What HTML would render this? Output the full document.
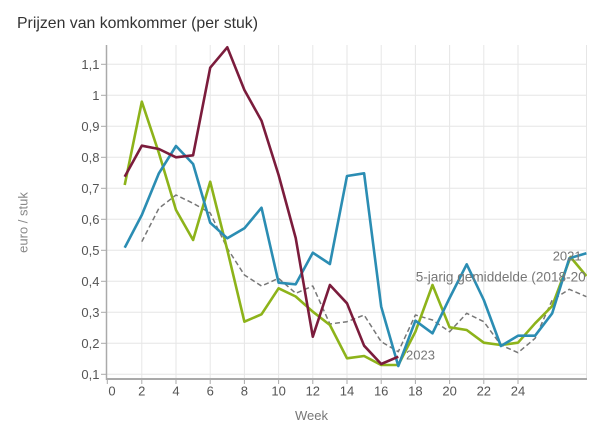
<!DOCTYPE html>
<html>
<head>
<meta charset="utf-8">
<style>
html,body{margin:0;padding:0;background:#fff;}
svg{display:block;}
text{font-family:"Liberation Sans",Arial,sans-serif;}
</style>
</head>
<body>
<svg width="600" height="441" viewBox="0 0 600 441" xmlns="http://www.w3.org/2000/svg">
<rect width="600" height="441" fill="#fff"/>
<text x="17" y="28" font-size="16" fill="#333" textLength="241" lengthAdjust="spacingAndGlyphs">Prijzen van komkommer (per stuk)</text>

<defs>
<clipPath id="plot"><rect x="107" y="40" width="480" height="339"/></clipPath>
</defs>

<!-- grid -->
<g stroke="#e6e6e6" stroke-width="1">
<line x1="107" x2="587" y1="374.3" y2="374.3"/>
<line x1="107" x2="587" y1="343.3" y2="343.3"/>
<line x1="107" x2="587" y1="312.3" y2="312.3"/>
<line x1="107" x2="587" y1="281.3" y2="281.3"/>
<line x1="107" x2="587" y1="250.3" y2="250.3"/>
<line x1="107" x2="587" y1="219.3" y2="219.3"/>
<line x1="107" x2="587" y1="188.3" y2="188.3"/>
<line x1="107" x2="587" y1="157.3" y2="157.3"/>
<line x1="107" x2="587" y1="126.3" y2="126.3"/>
<line x1="107" x2="587" y1="95.3" y2="95.3"/>
<line x1="107" x2="587" y1="64.3" y2="64.3"/>
<line x1="141.8" x2="141.8" y1="45" y2="379"/>
<line x1="176" x2="176" y1="45" y2="379"/>
<line x1="210.2" x2="210.2" y1="45" y2="379"/>
<line x1="244.4" x2="244.4" y1="45" y2="379"/>
<line x1="278.6" x2="278.6" y1="45" y2="379"/>
<line x1="312.8" x2="312.8" y1="45" y2="379"/>
<line x1="347" x2="347" y1="45" y2="379"/>
<line x1="381.2" x2="381.2" y1="45" y2="379"/>
<line x1="415.4" x2="415.4" y1="45" y2="379"/>
<line x1="449.6" x2="449.6" y1="45" y2="379"/>
<line x1="483.8" x2="483.8" y1="45" y2="379"/>
<line x1="518" x2="518" y1="45" y2="379"/>
<line x1="586.5" x2="586.5" y1="45" y2="379"/>
</g>

<!-- axes -->
<g stroke="#aaa">
<line x1="106.5" x2="106.5" y1="45" y2="380" stroke-width="1.5"/>
<line x1="106" x2="587" y1="379" y2="379" stroke-width="2"/>
</g>
<g stroke="#aaa" stroke-width="1">
<line x1="101" x2="106" y1="374.3" y2="374.3"/>
<line x1="101" x2="106" y1="343.3" y2="343.3"/>
<line x1="101" x2="106" y1="312.3" y2="312.3"/>
<line x1="101" x2="106" y1="281.3" y2="281.3"/>
<line x1="101" x2="106" y1="250.3" y2="250.3"/>
<line x1="101" x2="106" y1="219.3" y2="219.3"/>
<line x1="101" x2="106" y1="188.3" y2="188.3"/>
<line x1="101" x2="106" y1="157.3" y2="157.3"/>
<line x1="101" x2="106" y1="126.3" y2="126.3"/>
<line x1="101" x2="106" y1="95.3" y2="95.3"/>
<line x1="101" x2="106" y1="64.3" y2="64.3"/>
<line x1="107.3" x2="107.3" y1="379" y2="384"/>
<line x1="141.8" x2="141.8" y1="379" y2="384"/>
<line x1="176" x2="176" y1="379" y2="384"/>
<line x1="210.2" x2="210.2" y1="379" y2="384"/>
<line x1="244.4" x2="244.4" y1="379" y2="384"/>
<line x1="278.6" x2="278.6" y1="379" y2="384"/>
<line x1="312.8" x2="312.8" y1="379" y2="384"/>
<line x1="347" x2="347" y1="379" y2="384"/>
<line x1="381.2" x2="381.2" y1="379" y2="384"/>
<line x1="415.4" x2="415.4" y1="379" y2="384"/>
<line x1="449.6" x2="449.6" y1="379" y2="384"/>
<line x1="483.8" x2="483.8" y1="379" y2="384"/>
<line x1="518" x2="518" y1="379" y2="384"/>
</g>

<!-- y labels -->
<g font-size="13" fill="#555" text-anchor="end">
<text x="99.5" y="379">0,1</text>
<text x="99.5" y="348">0,2</text>
<text x="99.5" y="317">0,3</text>
<text x="99.5" y="286">0,4</text>
<text x="99.5" y="255">0,5</text>
<text x="99.5" y="224">0,6</text>
<text x="99.5" y="193">0,7</text>
<text x="99.5" y="162">0,8</text>
<text x="99.5" y="131">0,9</text>
<text x="99.5" y="100">1</text>
<text x="99.5" y="69">1,1</text>
</g>
<!-- x labels -->
<g font-size="13" fill="#555" text-anchor="middle">
<text x="112" y="395.7">0</text>
<text x="141.8" y="395.7">2</text>
<text x="176" y="395.7">4</text>
<text x="210.2" y="395.7">6</text>
<text x="244.4" y="395.7">8</text>
<text x="278.6" y="395.7">10</text>
<text x="312.8" y="395.7">12</text>
<text x="347" y="395.7">14</text>
<text x="381.2" y="395.7">16</text>
<text x="415.4" y="395.7">18</text>
<text x="449.6" y="395.7">20</text>
<text x="483.8" y="395.7">22</text>
<text x="518" y="395.7">24</text>
</g>
<text x="311.5" y="420" font-size="13" fill="#777" text-anchor="middle">Week</text>
<text transform="translate(27.5,222.5) rotate(-90)" font-size="13" fill="#888" text-anchor="middle">euro / stuk</text>

<g clip-path="url(#plot)" fill="none" stroke-linejoin="round">
<!-- 5-year average dashed -->
<polyline stroke="#777" stroke-width="1.5" stroke-dasharray="5,3" points="141.8,241.7 158.9,208.3 176,195 193.1,203.3 210.2,213 227.3,248.3 244.4,275 261.5,286 278.6,278.3 295.7,293.3 312.8,286 329.9,324 347,321.7 364.1,315 381.2,341.7 398.3,351.7 415.4,315 432.5,320 449.6,331.7 466.7,313.3 483.8,321.7 500.9,345 518,352.7 535.1,338.3 552.2,300 569.3,289.3 586.4,296.7"/>
<!-- green -->
<polyline stroke="#8db31a" stroke-width="2.6" points="124.7,185 141.8,101.7 158.9,153 176,210 193.1,240 210.2,181.7 227.3,250 244.4,321.7 261.5,314.3 278.6,288.3 295.7,296.5 312.8,311.7 329.9,325 347,358.3 364.1,356 381.2,365 398.3,365 415.4,331.7 432.5,285 449.6,327.3 466.7,330 483.8,342.7 500.9,345 518,342.7 535.1,323.3 552.2,306 570.5,257 586.4,276"/>
<!-- blue -->
<polyline stroke="#2b8db3" stroke-width="2.6" points="124.7,247.7 141.8,215 158.9,173.3 176,146 193.1,164 210.2,222.7 227.3,238.3 244.4,228.3 261.5,207.7 278.6,282.7 295.7,284.3 312.8,252.7 329.9,264 347,176 364.1,173.3 381.2,306.7 398.3,366 415.4,320.7 432.5,333.3 449.6,298 466.7,264.3 483.8,300 500.9,346 518,335.7 535.1,335.7 552.2,313.3 569.3,258.3 586.4,253.3"/>
<!-- maroon 2023 -->
<polyline stroke="#7b1c3c" stroke-width="2.6" points="124.7,176.7 141.8,145.7 158.9,149 176,157.3 193.1,155.3 210.2,67.7 227.3,47.3 244.4,90 261.5,120.7 278.6,175 295.7,238 312.8,336.7 329.9,285 347,303.3 364.1,345.7 381.2,364 398.3,356.7"/>
</g>

<!-- annotations -->
<g fill="#777">
<text x="406" y="359.3" font-size="13">2023</text>
<svg x="0" y="0" width="586" height="441" overflow="hidden">
<text x="415.7" y="281.7" font-size="13.6">5-jarig gemiddelde (2018-2022)</text>
</svg>
<text x="552.7" y="260.7" font-size="13">2021</text>
</g>
</svg>
</body>
</html>
